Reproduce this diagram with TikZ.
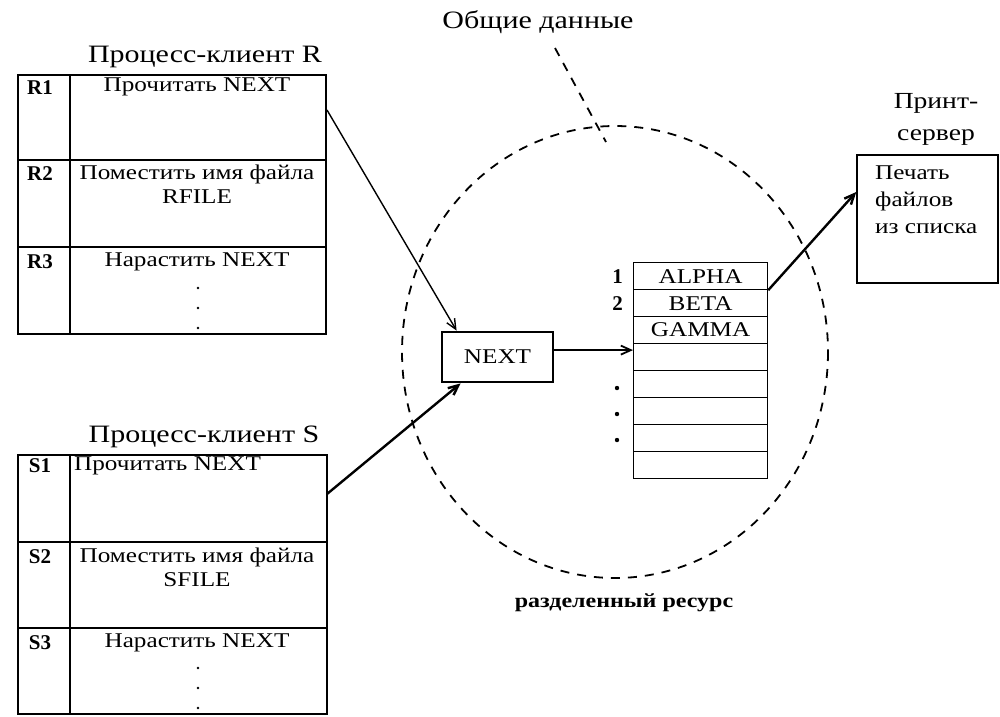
\documentclass[tikz,border=0pt]{standalone}
\usepackage{fontspec}
\setmainfont{Liberation Serif}[FakeStretch=1.2]
\newfontfamily\plainserif{Liberation Serif}
\usetikzlibrary{arrows.meta}

\begin{document}
\begin{tikzpicture}[x=1pt,y=-1pt,
    title/.style={font=\fontsize{25}{32}\selectfont, inner sep=0pt},
    txt/.style={font=\fontsize{21}{23}\selectfont, inner sep=0pt},
    tag/.style={font=\plainserif\fontsize{21}{23}\selectfont\bfseries, inner sep=0pt},
    arr/.style={-{Straight Barb[length=10pt,width=9pt]}, line width=1.8pt},
    lrow/.style={draw, line width=1.2pt, minimum width=134, minimum height=27,
        anchor=north west, inner sep=0pt, font=\fontsize{21}{23}\selectfont}]
    \useasboundingbox (0,0) rectangle (1000,716);

    % client R
    \node[title] (rtitle) at (205,57) {Процесс-клиент R};
    \node[draw, line width=1.5pt, minimum width=308, minimum height=259, inner sep=0pt] (rbox) at (172,204.5) {};
    \draw[line width=1.3pt] (70,75) -- (70,334) (18,160) -- (326,160) (18,247) -- (326,247);
    \node[tag] (r1) at (40,88) {R1};
    \node[txt] (r1t) at (197,87) {Прочитать NEXT};
    \node[tag] (r2) at (40,174) {R2};
    \node[txt] (r2t) at (197,174) {Поместить имя файла};
    \node[txt] (r2f) at (197,197) {RFILE};
    \node[tag] (r3) at (40,262) {R3};
    \node[txt] (r3t) at (197,262) {Нарастить NEXT};
    \foreach \y in {288,308,328} \fill (198,\y) circle (1.3);
    \coordinate (rout) at (327,110);

    % client S
    \node[title] (stitle) at (204,437) {Процесс-клиент S};
    \node[draw, line width=1.5pt, minimum width=309, minimum height=259, inner sep=0pt] (sbox) at (172.5,584.5) {};
    \draw[line width=1.3pt] (70,455) -- (70,714) (18,542) -- (327,542) (18,628) -- (327,628);
    \node[tag] (s1) at (40,466) {S1};
    \node[txt, anchor=west] (s1t) at (74,466) {Прочитать NEXT};
    \node[tag] (s2) at (40,557) {S2};
    \node[txt] (s2t) at (197,557) {Поместить имя файла};
    \node[txt] (s2f) at (197,580) {SFILE};
    \node[tag] (s3) at (40,643) {S3};
    \node[txt] (s3t) at (197,643) {Нарастить NEXT};
    \foreach \y in {668,688,708} \fill (198,\y) circle (1.3);
    \coordinate (sout) at (327,494);

    % shared data
    \node[title] (common) at (538,22) {Общие данные};
    \draw[line width=1.8pt, dash pattern=on 9pt off 8pt] (615,352) ellipse (213 and 226);
    \draw[line width=1.8pt, dash pattern=on 9pt off 8pt] (555,48) -- (606,142);
    \node[txt, font=\fontsize{20}{22}\selectfont\bfseries] (shared) at (624,603) {разделенный ресурс};

    \node[draw, line width=2.8pt, minimum width=111, minimum height=50, inner sep=0pt,
        font=\fontsize{21}{23}\selectfont] (next) at (497.5,357) {NEXT};

    % list of files
    \foreach \i/\t in {1/ALPHA,2/BETA,3/GAMMA,4/,5/,6/,7/,8/}
        \node[lrow] (row\i) at (633,235+27*\i) {\t};
    \node[tag, anchor=east] (n1) at ([xshift=-10pt]row1.west) {1};
    \node[tag, anchor=east] (n2) at ([xshift=-10pt]row2.west) {2};
    \foreach \y in {388,414,440} \fill (617,\y) circle (2.2);
    \coordinate (slot) at ([yshift=7pt]row4.west);

    % print server
    \node[title, font=\fontsize{23}{32}\selectfont, align=center] (ptitle) at (936,119) {Принт-\\сервер};
    \node[draw, line width=1.5pt, minimum width=141, minimum height=128, inner sep=0pt] (pserv) at (927.5,219) {};
    \node[txt, font=\fontsize{21}{27}\selectfont, align=left, anchor=north west] (ptext) at (875,166) {Печать\\файлов\\из списка};

    % connectors
    \draw[arr, line width=1.4pt] (rout) -- ([xshift=16pt]next.north west);
    \draw[arr, line width=2.4pt] (sout) -- ([xshift=20pt]next.south west);
    \draw[arr] (next.east |- slot) -- (slot);
    \draw[arr, line width=2.4pt] (row1.south east) -- ([yshift=27pt]pserv.west);
\end{tikzpicture}
\end{document}
